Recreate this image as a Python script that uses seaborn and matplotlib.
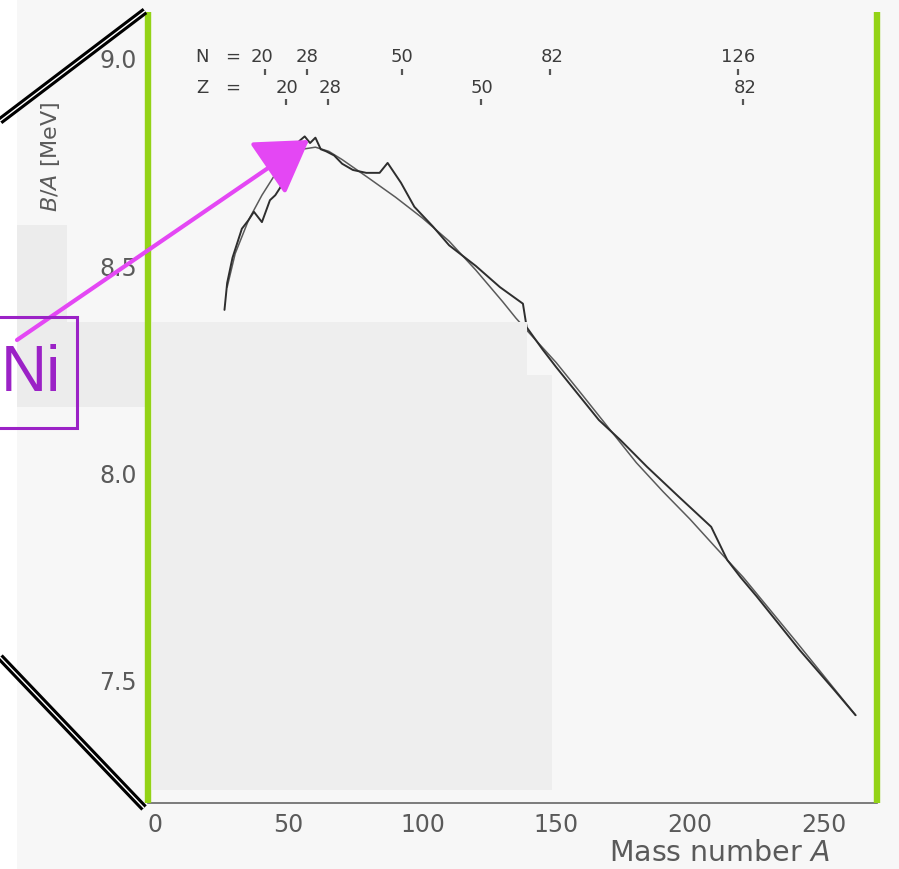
import numpy as np
import pandas as pd
import matplotlib
matplotlib.use("Agg")
import matplotlib.pyplot as plt
import seaborn as sns
from matplotlib.patches import Rectangle, FancyArrowPatch
from matplotlib.lines import Line2D

# ---------------- data ----------------
exp_A = [26, 27, 29, 31, 32.5, 35, 37, 40, 43, 45, 47, 48, 52, 54, 56, 58, 60, 62,
         64, 67, 70, 74, 79, 84, 87, 92, 97, 104, 110, 114, 120, 129, 137.6, 139,
         145, 150, 159, 166, 174, 184, 196, 208, 214, 219, 225, 241, 254, 262]
exp_B = [8.394, 8.459, 8.520, 8.560, 8.590, 8.611, 8.631, 8.606, 8.659, 8.671,
         8.691, 8.732, 8.772, 8.802, 8.813, 8.797, 8.810, 8.782, 8.777, 8.767,
         8.747, 8.732, 8.725, 8.725, 8.749, 8.701, 8.643, 8.595, 8.550, 8.530,
         8.500, 8.449, 8.409, 8.352, 8.298, 8.256, 8.184, 8.128, 8.080, 8.015,
         7.942, 7.870, 7.790, 7.748, 7.702, 7.573, 7.476, 7.415]

fit_A = [27, 30, 35, 40, 45, 50, 55, 60, 65, 70, 80, 90, 100, 110, 120, 130, 135,
         140, 150, 160, 170, 180, 190, 200, 210, 220, 240, 262]
fit_B = [8.449, 8.530, 8.611, 8.671, 8.722, 8.757, 8.782, 8.787, 8.777, 8.757,
         8.712, 8.666, 8.616, 8.560, 8.490, 8.414, 8.374, 8.338, 8.267, 8.187,
         8.106, 8.025, 7.955, 7.889, 7.818, 7.748, 7.591, 7.415]

x_ticks = [0, 50, 100, 150, 200, 250]
y_ticks = [7.5, 8.0, 8.5, 9.0]

N_labels = ["20", "28", "50", "82", "126"]
N_label_A = [40.0, 56.8, 92.4, 148.5, 218.1]
N_tick_A = [41.1, 56.8, 92.4, 147.7, 218.0]
Z_labels = ["20", "28", "50", "82"]
Z_label_A = [49.4, 65.4, 122.3, 220.6]
Z_tick_A = [49.0, 64.7, 121.9, 219.9]

# ---------------- style ----------------
W, H = 899, 869
BG = "#f7f7f7"
TXT = "#5a5a5a"
MAG = "#3c3c3c"
sns.set_style("white")
plt.rcParams["font.family"] = ["DejaVu Sans"]

fig = plt.figure(figsize=(W / 100, H / 100), dpi=100, facecolor=BG)


def fx(x):
    return x / W


def fy(y):
    return 1 - y / H


ax = fig.add_axes([fx(148), fy(803), (877 - 148) / W, (803 - 12) / H])
ax.set_facecolor(BG)

df_exp = pd.DataFrame({"A": exp_A, "B": exp_B})
df_fit = pd.DataFrame({"A": fit_A, "B": fit_B})
sns.lineplot(data=df_fit, x="A", y="B", ax=ax, color="#5a5a5a", lw=1.1,
             sort=False, estimator=None)
sns.lineplot(data=df_exp, x="A", y="B", ax=ax, color="#2e2e2e", lw=1.4,
             sort=False, estimator=None)

ax.set_xlim(-2.6, 270)
ax.set_ylim(7.203, 9.1135)
ax.set_xticks(x_ticks)
ax.set_xticklabels([str(t) for t in x_ticks])
ax.set_yticks(y_ticks)
ax.set_yticklabels([f"{t:.1f}" for t in y_ticks])
ax.set_yticks(np.arange(7.3, 9.05, 0.1), minor=True)
ax.tick_params(axis="both", which="major", direction="in", length=10, width=1.2,
               color="#555555", labelsize=17, labelcolor=TXT)
ax.tick_params(axis="y", which="minor", direction="in", length=5, width=1,
               color="#777777")
ax.tick_params(axis="y", pad=8)
ax.tick_params(axis="x", pad=7)
for s in ["top", "right", "left"]:
    ax.spines[s].set_visible(False)
ax.spines["bottom"].set_color("#666666")
ax.spines["bottom"].set_linewidth(1.2)
ax.set_xlabel("")
ax.set_ylabel("")

# magic number annotations
ROW_N, ROW_Z = 9.005, 8.930
ax.text(17.6, ROW_N, "N", ha="center", va="center", fontsize=13, color=MAG)
ax.text(29.2, ROW_N, "=", ha="center", va="center", fontsize=13, color=MAG)
ax.text(17.6, ROW_Z, "Z", ha="center", va="center", fontsize=13, color=MAG)
ax.text(29.2, ROW_Z, "=", ha="center", va="center", fontsize=13, color=MAG)
for lab, a in zip(N_labels, N_label_A):
    ax.text(a, ROW_N, lab, ha="center", va="center", fontsize=13, color=MAG)
for lab, a in zip(Z_labels, Z_label_A):
    ax.text(a, ROW_Z, lab, ha="center", va="center", fontsize=13, color=MAG)
ax.vlines(N_tick_A, 8.961, 8.976, color="#555555", lw=1.6)
ax.vlines(Z_tick_A, 8.889, 8.903, color="#555555", lw=1.6)

# axis labels
fig.text(fx(719), fy(853), "Mass number $\\it{A}$", ha="center", va="center",
         fontsize=20.5, color=TXT)
fig.text(fx(50), fy(157), "$\\it{B/A}$ [MeV]", ha="center", va="center",
         rotation=90, fontsize=16, color=TXT)

# ---------------- overlay decorations (figure level) ----------------
def rect(x0, y0, x1, y1, color, z):
    fig.patches.append(Rectangle((fx(x0), fy(y1)), (x1 - x0) / W, (y1 - y0) / H,
                                 transform=fig.transFigure, facecolor=color,
                                 edgecolor="none", zorder=z))


rect(0, 0, 17, H, "#ffffff", 1)
rect(17, 225, 67, 322, "#ececec", 1)
rect(17, 322, 145, 407, "#ececec", 1)
rect(152, 322, 527, 375, "#eeeeee", 1)
rect(152, 375, 552, 790, "#eeeeee", 1)

# green frame lines
for gx in (148, 877):
    fig.add_artist(Line2D([fx(gx), fx(gx)], [fy(12), fy(803)],
                          transform=fig.transFigure, color="#93d316", lw=4.6,
                          solid_capstyle="butt", zorder=3))

# black double diagonal lines
for (x0, y0, x1, y1) in [(0, 121, 145, 11), (0, 657, 144, 808)]:
    fig.add_artist(Line2D([fx(x0), fx(x1)], [fy(y0), fy(y1)],
                          transform=fig.transFigure, color="#000000", lw=5.4,
                          solid_capstyle="butt", zorder=3))
    fig.add_artist(Line2D([fx(x0), fx(x1)], [fy(y0), fy(y1)],
                          transform=fig.transFigure, color="#ffffff", lw=1.0,
                          solid_capstyle="butt", zorder=3.1))

# magenta arrow
fig.add_artist(FancyArrowPatch((fx(17), fy(340)), (fx(309), fy(140)),
                               transform=fig.transFigure,
                               arrowstyle="-|>,head_length=1.6,head_width=1.0",
                               mutation_scale=20, color="#e447f4", lw=3.0,
                               shrinkA=0, shrinkB=0, zorder=4))

# Ni box
fig.patches.append(Rectangle((fx(-10), fy(428)), (77 + 10) / W, (428 - 317) / H,
                             transform=fig.transFigure, facecolor="none",
                             edgecolor="#9b22c6", lw=2.2, zorder=5))
fig.text(fx(1), fy(374), "Ni", ha="left", va="center", fontsize=46,
         family="Liberation Sans", color="#9b22c6", zorder=6)

fig.savefig("out.png", dpi=100, facecolor=BG)
